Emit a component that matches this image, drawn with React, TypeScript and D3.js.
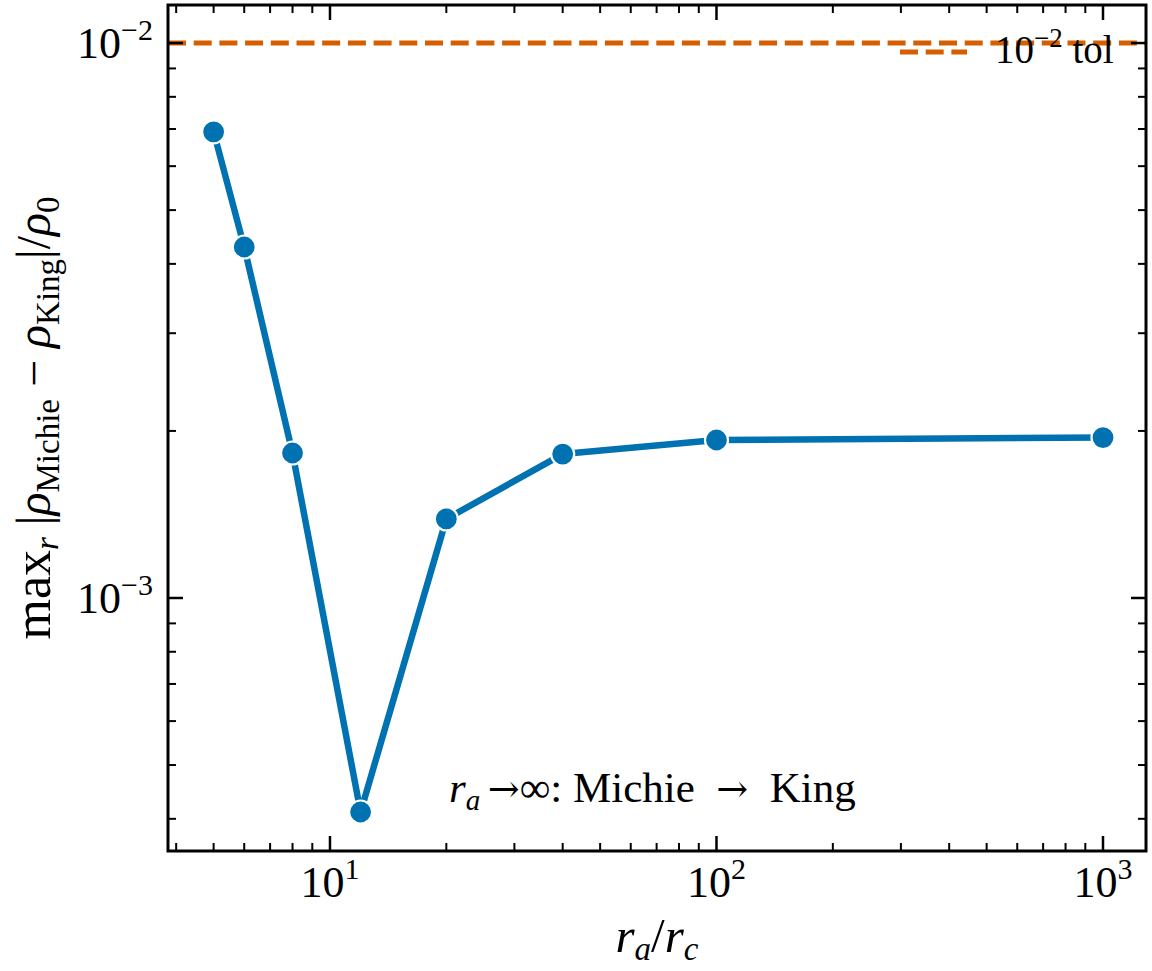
import React from "react";
import * as d3 from "d3";

// ---- data ----
const raOverRc: number[] = [5, 6, 8, 12, 20, 40, 100, 1000];
const maxDiff: number[] = [6.92e-3, 4.29e-3, 1.825e-3, 4.115e-4, 1.388e-3, 1.817e-3, 1.926e-3, 1.946e-3];
const xMajorTicks: number[] = [10, 100, 1000];
const xMajorExp: string[] = ["1", "2", "3"];
const yMajorTicks: number[] = [1e-3, 1e-2];
const yMajorExp: string[] = ["\u22123", "\u22122"];
const tolValue = 1e-2;
const xDomain: [number, number] = [3.81, 1292];
const yDomain: [number, number] = [3.5e-4, 0.01171];

const W = 1152;
const H = 971;
const L = 168, R = 1146, T = 5, B = 851;
const BLUE = "#0072B2";
const ORANGE = "#D55E00";
const FONT = "'Liberation Serif', 'DejaVu Serif', serif";

function minorTicks(domain: [number, number]): number[] {
  const out: number[] = [];
  const lo = Math.floor(Math.log10(domain[0]));
  const hi = Math.ceil(Math.log10(domain[1]));
  for (let e = lo; e <= hi; e++) {
    for (let m = 2; m <= 9; m++) {
      const v = m * Math.pow(10, e);
      if (v >= domain[0] && v <= domain[1]) out.push(v);
    }
  }
  return out;
}

export default function App() {
  const x = d3.scaleLog().domain(xDomain).range([L, R]);
  const y = d3.scaleLog().domain(yDomain).range([B, T]);
  const line = d3
    .line<number>()
    .x((_, i) => x(raOverRc[i]))
    .y((d) => y(d));
  const xMinor = minorTicks(xDomain);
  const yMinor = minorTicks(yDomain);
  const MAJ = 15, MIN = 8;

  return (
    <svg width={W} height={H} style={{ position: "absolute", left: 0, top: 0, background: "#fff" }} fontFamily={FONT}>
      <rect x={0} y={0} width={W} height={H} fill="#fff" />
      {/* tolerance line */}
      <line x1={L} x2={R} y1={y(tolValue)} y2={y(tolValue)} stroke={ORANGE} strokeWidth={5} strokeDasharray="18 7.7" />
      {/* data line */}
      <path d={line(maxDiff) || ""} fill="none" stroke={BLUE} strokeWidth={6.5} strokeLinejoin="round" />
      {maxDiff.map((v, i) => (
        <circle key={i} cx={x(raOverRc[i])} cy={y(v)} r={11.5} fill={BLUE} stroke="#fff" strokeWidth={2.2} />
      ))}
      {/* ticks */}
      <g stroke="#000">
        {xMajorTicks.map((t) => (
          <g key={"xM" + t}>
            <line x1={x(t)} x2={x(t)} y1={B} y2={B - MAJ} strokeWidth={2.5} />
            <line x1={x(t)} x2={x(t)} y1={T} y2={T + MAJ} strokeWidth={2.5} />
          </g>
        ))}
        {xMinor.map((t) => (
          <g key={"xm" + t}>
            <line x1={x(t)} x2={x(t)} y1={B} y2={B - MIN} strokeWidth={2} />
            <line x1={x(t)} x2={x(t)} y1={T} y2={T + MIN} strokeWidth={2} />
          </g>
        ))}
        {yMajorTicks.map((t) => (
          <g key={"yM" + t}>
            <line x1={L} x2={L + MAJ} y1={y(t)} y2={y(t)} strokeWidth={2.5} />
            <line x1={R} x2={R - MAJ} y1={y(t)} y2={y(t)} strokeWidth={2.5} />
          </g>
        ))}
        {yMinor.map((t) => (
          <g key={"ym" + t}>
            <line x1={L} x2={L + MIN} y1={y(t)} y2={y(t)} strokeWidth={2} />
            <line x1={R} x2={R - MIN} y1={y(t)} y2={y(t)} strokeWidth={2} />
          </g>
        ))}
      </g>
      {/* frame */}
      <rect x={L} y={T} width={R - L} height={B - T} fill="none" stroke="#000" strokeWidth={3} />
      {/* tick labels */}
      {xMajorTicks.map((t, i) => (
        <text key={"xl" + t} x={x(t)} y={897} textAnchor="middle" fontSize={44} fill="#000">
          <tspan>10</tspan>
          <tspan dy={-18} fontSize={30}>{xMajorExp[i]}</tspan>
        </text>
      ))}
      {yMajorTicks.map((t, i) => (
        <text key={"yl" + t} x={153} y={y(t) + 15} textAnchor="end" fontSize={44} fill="#000">
          <tspan>10</tspan>
          <tspan dy={-18} fontSize={30}>{yMajorExp[i]}</tspan>
        </text>
      ))}
      {/* legend */}
      <line x1={900} x2={967} y1={52} y2={52} stroke={ORANGE} strokeWidth={5} strokeDasharray="18 7.7" />
      <text x={995} y={63} fontSize={39} fill="#000">
        <tspan>10</tspan>
        <tspan dy={-16} fontSize={27}>{"\u22122"}</tspan>
        <tspan dy={16}>{" tol"}</tspan>
      </text>
      {/* annotation */}
      <text x={449} y={802} fontSize={43} fill="#000">
        <tspan fontStyle="italic">r</tspan>
        <tspan dy={8} fontSize={29} fontStyle="italic">a</tspan>
        <tspan dy={-8} fontFamily="'DejaVu Serif', serif" fontSize={38}>{"\u2009\u2192"}</tspan>
        <tspan>{"\u221E: Michie\u2002"}</tspan>
        <tspan fontFamily="'DejaVu Serif', serif" fontSize={38}>{"\u2192"}</tspan>
        <tspan>{"\u2002King"}</tspan>
      </text>
      {/* x label */}
      <text x={(L + R) / 2} y={952} textAnchor="middle" fontSize={49} fill="#000">
        <tspan fontStyle="italic">r</tspan>
        <tspan dy={8} fontSize={33} fontStyle="italic">a</tspan>
        <tspan dy={-8}>/</tspan>
        <tspan fontStyle="italic">r</tspan>
        <tspan dy={8} fontSize={33} fontStyle="italic">c</tspan>
      </text>
      {/* y label */}
      <text transform={`translate(50,418) rotate(-90)`} textAnchor="middle" fontSize={48} fill="#000">
        <tspan fontSize={52}>max</tspan>
        <tspan dy={8} fontSize={33} fontStyle="italic">r</tspan>
        <tspan dy={-8}>{" |"}</tspan>
        <tspan fontStyle="italic">ρ</tspan>
        <tspan dy={9} fontSize={33}>Michie</tspan>
        <tspan dy={-9}>{" \u2212 "}</tspan>
        <tspan fontStyle="italic">ρ</tspan>
        <tspan dy={9} fontSize={33}>King</tspan>
        <tspan dy={-9}>{"|/"}</tspan>
        <tspan fontStyle="italic">ρ</tspan>
        <tspan dy={9} fontSize={33}>0</tspan>
      </text>
    </svg>
  );
}
